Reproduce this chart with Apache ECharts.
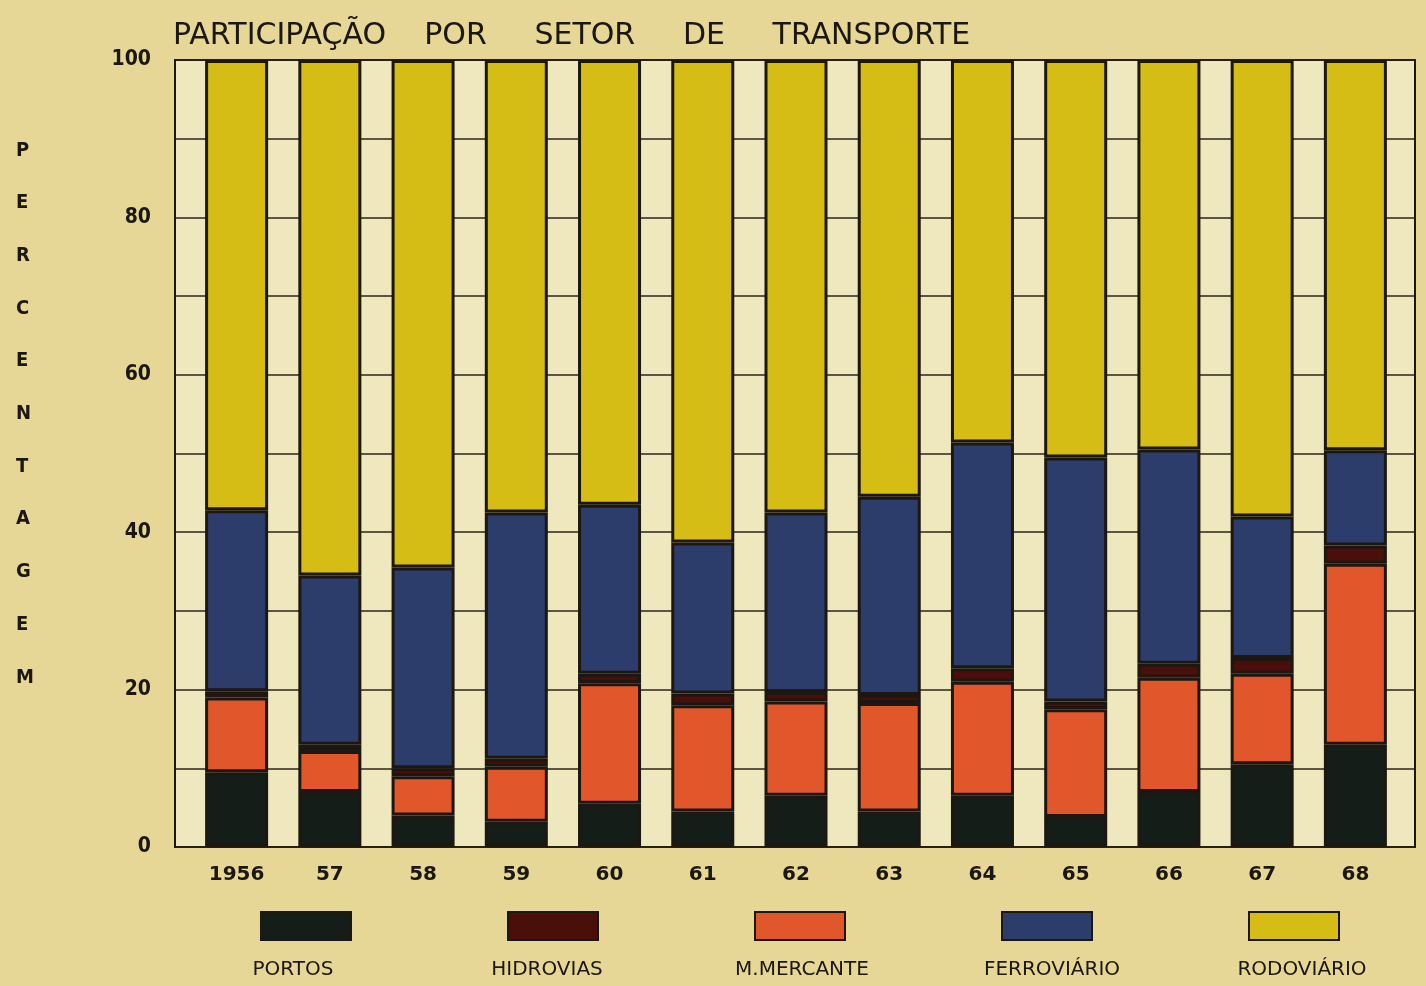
<!DOCTYPE html>
<html>
<head>
<meta charset="utf-8">
<title>Participação por setor de transporte</title>
<script src="https://cdn.jsdelivr.net/npm/echarts@6/dist/echarts.min.js"></script>
<style>
  html, body { margin: 0; padding: 0; background: #e6d796; }
  #chart { width: 1426px; height: 986px; }
</style>
</head>
<body>
<div id="chart"></div>
<script>
  const years = ['1956', '57', '58', '59', '60', '61', '62', '63', '64', '65', '66', '67', '68']

  // percentagens (soma = 100 por ano)
  const portos = [9.5, 7, 4, 3.2, 5.5, 4.5, 6.5, 4.5, 6.5, 3.8, 7, 10.5, 13]
  const hidrovias = [0.8, 0.8, 1, 1, 1.2, 1.5, 1.2, 1, 1.7, 1, 1.8, 2, 2.3]
  const mercante = [9.5, 5.2, 5, 7, 15.3, 13.5, 12, 13.8, 14.5, 13.7, 14.5, 11.5, 23]
  const ferroviario = [23, 21.5, 25.5, 31.3, 21.5, 19.2, 22.8, 25.2, 28.7, 31, 27.2, 18, 12.1]
  const rodoviario = [57.2, 65.5, 64.5, 57.5, 56.5, 61.3, 57.5, 55.5, 48.6, 50.5, 49.5, 58, 49.6]

  const yTicks = [0, 20, 40, 60, 80, 100]

  const font = 'DejaVu Sans Condensed'
  const ink = '#1c1710'

  const chart = echarts.init(document.getElementById('chart'))

  function barSeries (name, data, color) {
    return {
      name: name,
      type: 'bar',
      stack: 'total',
      xAxisIndex: 1,
      yAxisIndex: 1,
      barWidth: 63,
      data: data,
      itemStyle: {
        color: color,
        borderColor: ink,
        borderWidth: 3
      }
    }
  }

  const legendNames = ['PORTOS', 'HIDROVIAS', 'M.MERCANTE', 'FERROVIÁRIO', 'RODOVIÁRIO']
  const legendX = [293, 547, 802, 1052, 1302]

  const option = {
    backgroundColor: '#e6d796',
    animation: false,
    title: {
      text: 'PARTICIPAÇÃO    POR     SETOR     DE     TRANSPORTE',
      left: 168,
      top: 16,
      textStyle: {
        fontFamily: 'DejaVu Sans',
        fontSize: 30,
        fontWeight: 'normal',
        color: ink
      }
    },
    legend: {
      left: 255,
      top: 906,
      itemWidth: 90,
      itemHeight: 28,
      itemGap: 155,
      icon: 'rect',
      formatter: function () { return '' },
      data: legendNames
    },
    grid: [
      // moldura e linhas de fundo
      {
        left: 175, right: 11, top: 60, bottom: 139,
        show: true,
        backgroundColor: '#efe7bd',
        borderColor: ink,
        borderWidth: 2
      },
      // barras
      { left: 190, right: 24, top: 60, bottom: 139 }
    ],
    xAxis: [
      { gridIndex: 0, type: 'value', min: 0, max: 1, show: false },
      {
        gridIndex: 1,
        type: 'category',
        data: years,
        axisLine: { show: false },
        axisTick: { show: false },
        axisLabel: {
          margin: 18,
          fontFamily: 'DejaVu Sans',
          fontSize: 20,
          fontWeight: 'bold',
          color: ink
        }
      }
    ],
    yAxis: [
      {
        gridIndex: 0,
        type: 'value',
        min: 0,
        max: 100,
        interval: 10,
        axisLine: { show: true, lineStyle: { color: ink, width: 2 } },
        axisTick: { show: false },
        axisLabel: {
          margin: 24,
          fontFamily: font,
          fontSize: 21,
          fontWeight: 'bold',
          color: ink,
          formatter: function (v) { return yTicks.indexOf(v) >= 0 ? String(v) : '' }
        },
        splitLine: { lineStyle: { color: '#2a2418', width: 1.5 } }
      },
      { gridIndex: 1, type: 'value', min: 0, max: 100, show: false }
    ],
    graphic: [
      {
        type: 'text',
        left: 16,
        top: 124,
        style: {
          text: 'PERCENTAGEM'.split('').join('\n'),
          fontFamily: font,
          fontSize: 20,
          fontWeight: 'bold',
          lineHeight: 52.7,
          align: 'center',
          fill: ink
        }
      }
    ].concat(legendNames.map(function (n, i) {
      return {
        type: 'text',
        x: legendX[i],
        y: 970,
        style: {
          text: n,
          fontFamily: 'DejaVu Sans',
          fontSize: 20,
          align: 'center',
          verticalAlign: 'middle',
          fill: ink
        }
      }
    })),
    // ordem de empilhamento igual ao desenho: portos, m. mercante, hidrovias, ferroviario, rodoviario
    series: [
      barSeries('PORTOS', portos, '#151d18'),
      barSeries('M.MERCANTE', mercante, '#e2562c'),
      barSeries('HIDROVIAS', hidrovias, '#4a0f0a'),
      barSeries('FERROVIÁRIO', ferroviario, '#2c3d6c'),
      barSeries('RODOVIÁRIO', rodoviario, '#d5bd16')
    ]
  }

  chart.setOption(option)
</script>
</body>
</html>
